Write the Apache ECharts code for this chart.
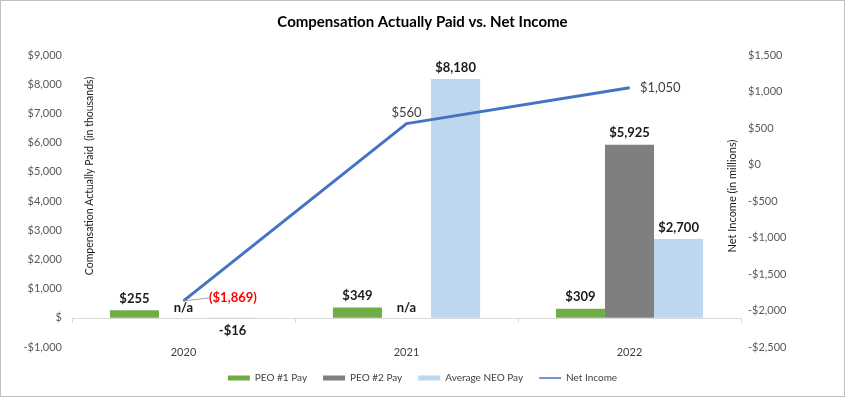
<!DOCTYPE html>
<html>
<head>
<meta charset="utf-8">
<script src="https://cdn.jsdelivr.net/npm/echarts@6/dist/echarts.min.js"></script>
<style>
  html, body { margin: 0; padding: 0; background: #fff; }
  #chart { width: 845px; height: 397px; box-sizing: border-box; border: 1px solid #bfbfbf; }
</style>
</head>
<body>
<div id="chart"></div>
<script>
// 数据
const years = ['2020', '2021', '2022']
const peo1Pay = [255, 349, 309]
const peo2Pay = [null, null, 5925]   // null = n/a
const neoPay = [-16, 8180, 2700]
const netIncome = [-1869, 560, 1050]

const font = 'Lato, "Liberation Sans", sans-serif'
const money = v => (v < 0 ? '-$' : '$') + Math.abs(v).toLocaleString('en-US')

const barLabel = {
  show: true,
  fontFamily: font,
  fontWeight: 'bold',
  fontSize: 13,
  color: '#1a1a1a',
  formatter: p => money(p.value)
}

// 柱子数据，负值标签放在下方
const barData = arr => arr.map(v => {
  if (v === null) return { value: 0, label: { formatter: 'n/a', distance: 3 } }
  if (v < 0) return { value: v, label: { position: 'bottom', distance: 6 } }
  return v
})

const myChart = echarts.init(document.getElementById('chart'))
myChart.setOption({
  animation: false,
  textStyle: { fontFamily: font },
  title: {
    text: 'Compensation Actually Paid vs. Net Income',
    left: 'center',
    top: 9,
    textStyle: { fontFamily: font, fontSize: 15, fontWeight: 'bold', color: '#000' }
  },
  legend: {
    bottom: 8,
    itemWidth: 22,
    itemHeight: 5,
    itemGap: 16,
    textStyle: { fontFamily: font, fontSize: 10, color: '#404040' },
    data: [
      { name: 'PEO #1 Pay', icon: 'rect' },
      { name: 'PEO #2 Pay', icon: 'rect' },
      { name: 'Average NEO Pay', icon: 'rect' },
      { name: 'Net Income', icon: 'path://M0,0 L44,0 L44,3 L0,3 Z' }
    ]
  },
  grid: { left: 71, right: 103, top: 54, bottom: 49 },
  xAxis: [
    {
      type: 'category',
      data: years,
      axisLine: { onZero: true, lineStyle: { color: '#d9d9d9' } },
      axisTick: { show: true, length: 5, lineStyle: { color: '#d9d9d9' } },
      axisLabel: { show: false }
    },
    {
      type: 'category',
      data: years,
      position: 'bottom',
      axisLine: { show: false, onZero: false },
      axisTick: { show: false },
      axisLabel: { margin: 0, fontFamily: font, fontSize: 11, color: '#404040' }
    }
  ],
  yAxis: [
    {
      type: 'value',
      min: -1000,
      max: 9000,
      interval: 1000,
      name: 'Compensation Actually Paid  (in thousands)',
      nameLocation: 'middle',
      nameGap: -23,
      nameMoveOverlap: false,
      nameTextStyle: { fontFamily: font, fontSize: 10.5, color: '#1a1a1a', padding: [0, 0, 0, 50] },
      splitLine: { show: false },
      axisLine: { show: false },
      axisLabel: {
        margin: 10,
        fontFamily: font,
        fontSize: 11,
        color: '#595959',
        formatter: v => (v === 0 ? '$' : money(v))
      }
    },
    {
      type: 'value',
      min: -2500,
      max: 1500,
      interval: 500,
      name: 'Net Income (in millions)',
      nameLocation: 'middle',
      nameGap: -14,
      nameMoveOverlap: false,
      nameTextStyle: { fontFamily: font, fontSize: 11, color: '#1a1a1a', padding: [0, 0, 0, 10] },
      splitLine: { show: false },
      axisLine: { show: false },
      axisLabel: {
        margin: 7,
        fontFamily: font,
        fontSize: 11,
        color: '#595959',
        formatter: v => money(v)
      }
    }
  ],
  series: [
    {
      name: 'PEO #1 Pay',
      type: 'bar',
      barGap: '0%',
      barCategoryGap: '34%',
      itemStyle: { color: '#70ad47' },
      label: { ...barLabel, position: 'top', distance: 5 },
      data: barData(peo1Pay)
    },
    {
      name: 'PEO #2 Pay',
      type: 'bar',
      itemStyle: { color: '#7f7f7f' },
      label: { ...barLabel, position: 'top', distance: 5 },
      data: barData(peo2Pay)
    },
    {
      name: 'Average NEO Pay',
      type: 'bar',
      itemStyle: { color: '#bdd7ee' },
      label: { ...barLabel, position: 'top', distance: 5 },
      data: barData(neoPay)
    },
    {
      name: 'Net Income',
      type: 'line',
      yAxisIndex: 1,
      symbol: 'circle',
      symbolSize: 1,
      showSymbol: true,
      z: 5,
      lineStyle: { color: '#4472c4', width: 3 },
      itemStyle: { color: '#4472c4' },
      label: {
        show: true,
        fontFamily: font,
        fontSize: 13,
        color: '#404040',
        formatter: p => p.value < 0 ? '(' + money(-p.value) + ')' : money(p.value)
      },
      labelLine: { show: true, lineStyle: { color: '#a6a6a6', width: 1 } },
      labelLayout: p => (p.dataIndex === 0 ? { dx: 21, dy: -3 } : {}),
      data: netIncome.map((v, i) => {
        if (i === 0) return { value: v, label: { position: 'right', distance: 4, color: '#ff0000', fontWeight: 'bold' } }
        if (i === 1) return { value: v, label: { position: 'top', distance: 4, offset: [-7, 0] }, labelLine: { show: false } }
        return { value: v, label: { position: 'right', distance: 10 }, labelLine: { show: false } }
      })
    }
  ]
})
</script>
</body>
</html>
